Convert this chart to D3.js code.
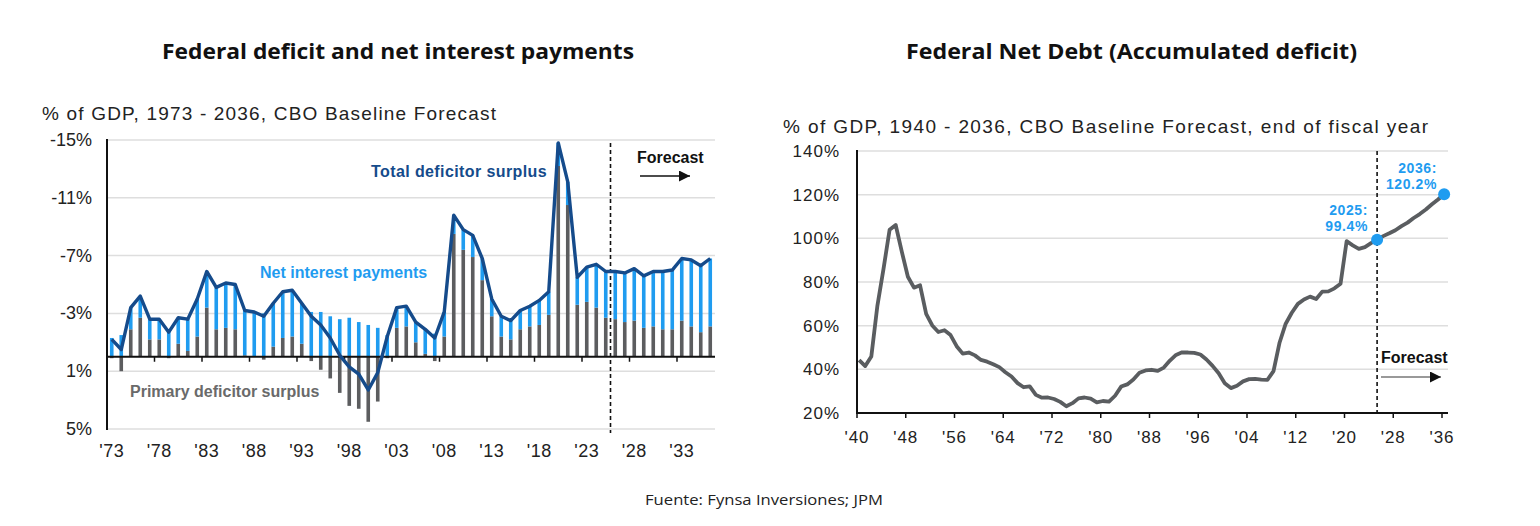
<!DOCTYPE html>
<html>
<head>
<meta charset="utf-8">
<script src="https://cdn.jsdelivr.net/npm/d3@7"></script>
<style>
  html, body { margin: 0; padding: 0; background: #fff; }
  svg { display: block; }
  .sans { font-family: "Liberation Sans", Arial, sans-serif; }
  .head { font-family: "Open Sans", Lato, sans-serif; }
</style>
</head>
<body>
<div id="chart"></div>
<script>
// ---- data: federal deficit (balance, % of GDP, negative = deficit) ----
var deficitYears = d3.range(1973, 2037);

var totalBalance = [
  -1.2, -0.5, -3.4, -4.2, -2.6, -2.6, -1.7, -2.7, -2.6, -4.0,   // 1973-1982
  -5.9, -4.8, -5.1, -5.0, -3.2, -3.1, -2.8, -3.7, -4.5, -4.6,   // 1983-1992
  -3.7, -2.8, -2.2, -1.3, -0.1,  0.7,  1.2,  2.3,  1.1, -1.4,   // 1993-2002
  -3.4, -3.5, -2.4, -1.9, -1.3, -3.1, -9.8, -8.8, -8.4, -6.8,   // 2003-2012
  -4.0, -2.8, -2.5, -3.2, -3.5, -3.9, -4.5, -14.8, -12.1, -5.5, // 2013-2022
  -6.2, -6.4, -5.9, -5.9, -5.8, -6.1, -5.6, -5.9, -5.9, -6.0,   // 2023-2032
  -6.8, -6.7, -6.3, -6.8                                        // 2033-2036
];

var primaryBalance = [
   0.1,  1.0, -1.9, -2.7, -1.2, -1.2,  0.1, -0.9, -0.4, -1.4,
  -3.4, -1.9, -2.0, -1.9, -0.1, -0.05, 0.2, -0.7, -1.3, -1.4,
  -0.9,  0.3,  0.9,  1.5,  2.5,  3.4,  3.6,  4.5,  3.1,  0.1,
  -2.0, -2.1, -1.0, -0.2,  0.3, -1.4, -8.5, -7.4, -6.9, -5.3,
  -2.8, -1.4, -1.2, -1.9, -2.1, -2.2, -2.9, -13.2, -10.5, -3.6,
  -3.8, -3.4, -2.7, -2.6, -2.4, -2.5, -2.0, -2.1, -1.9, -1.9,
  -2.5, -2.1, -1.7, -2.1
];

var netInterest = [
  -1.3, -1.5, -1.5, -1.5, -1.4, -1.4, -1.8, -1.8, -2.2, -2.6,
  -2.5, -2.9, -3.1, -3.1, -3.1, -3.05, -3.0, -3.0, -3.2, -3.2,
  -2.8, -3.1, -3.1, -2.8, -2.6, -2.7, -2.4, -2.2, -2.0, -1.5,
  -1.4, -1.4, -1.4, -1.7, -1.6, -1.7, -1.3, -1.4, -1.5, -1.5,
  -1.2, -1.4, -1.3, -1.3, -1.4, -1.7, -1.6, -1.6, -1.6, -1.9,
  -2.4, -3.0, -3.2, -3.3, -3.4, -3.6, -3.6, -3.8, -4.0, -4.1,
  -4.3, -4.6, -4.6, -4.7
];

var deficitTicks = [-15, -11, -7, -3, 1, 5];
var deficitLabelYears = [1973, 1978, 1983, 1988, 1993, 1998, 2003, 2008, 2013, 2018, 2023, 2028, 2033];

// ---- data: federal net debt (% of GDP) ----
var debtYears = d3.range(1940, 2037);
var netDebt = [
  44.2, 41.5, 45.9, 69.2, 86.0, 103.9, 106.1, 93.9, 82.4, 77.4,  // 1940-1949
  78.5, 65.4, 60.1, 57.1, 57.9, 55.7, 50.6, 47.2, 47.7, 46.4,    // 1950-1959
  44.3, 43.5, 42.3, 41.0, 38.7, 36.7, 33.7, 31.8, 32.2, 28.3,    // 1960-1969
  27.0, 27.1, 26.4, 25.1, 23.1, 24.5, 26.7, 27.1, 26.6, 24.9,    // 1970-1979
  25.5, 25.2, 27.9, 32.1, 33.1, 35.3, 38.4, 39.5, 39.8, 39.3,    // 1980-1989
  40.8, 44.0, 46.6, 47.8, 47.7, 47.5, 46.8, 44.5, 41.6, 38.2,    // 1990-1999
  33.6, 31.4, 32.5, 34.5, 35.5, 35.6, 35.3, 35.2, 39.2, 52.3,    // 2000-2009
  60.9, 65.9, 70.0, 72.0, 73.3, 72.2, 75.6, 75.7, 77.1, 79.2,    // 2010-2019
  98.7, 96.8, 95.2, 96.0, 97.8, 99.4, 101.0, 102.3, 103.7, 105.6,// 2020-2029
  107.2, 109.3, 111.1, 113.2, 115.6, 117.8, 120.2                // 2030-2036
];
var debtTicks = [20, 40, 60, 80, 100, 120, 140];
var debtLabelYears = [1940, 1948, 1956, 1964, 1972, 1980, 1988, 1996, 2004, 2012, 2020, 2028, 2036];
var debtMarkers = [
  { year: 2025, value: 99.4, lines: ["2025:", "99.4%"] },
  { year: 2036, value: 120.2, lines: ["2036:", "120.2%"] }
];

var navy = "#154b8b", sky = "#1f9cf0", grey = "#5c5d5f";

var svg = d3.select("#chart").append("svg")
    .attr("width", 1540)
    .attr("height", 526);

svg.append("rect").attr("width", 1540).attr("height", 526).attr("fill", "#fff");

// ================= left chart =================
var left = svg.append("g");

var x = d3.scaleBand().domain(deficitYears).range([107, 715]).padding(0);
var y = d3.scaleLinear().domain([-15, 5]).range([140, 429]);

left.selectAll(".grid").data(deficitTicks).enter().append("line")
    .attr("x1", 107).attr("x2", 715)
    .attr("y1", d => y(d)).attr("y2", d => y(d))
    .attr("stroke", "#dedede").attr("stroke-width", 1.5);

left.selectAll(".ylab").data(deficitTicks).enter().append("text")
    .attr("class", "sans")
    .attr("x", 92).attr("y", d => y(d) + 6)
    .attr("text-anchor", "end")
    .attr("font-size", 18).attr("fill", "#222")
    .text(d => d + "%");

var rows = deficitYears.map((yr, i) => ({ year: yr, primary: primaryBalance[i], interest: netInterest[i] }));
var stacked = d3.stack().keys(["primary", "interest"]).offset(d3.stackOffsetDiverging)(rows);
var barColor = { primary: grey, interest: sky };
var bw = x.bandwidth();

left.selectAll(".series").data(stacked).enter().append("g")
    .attr("fill", s => barColor[s.key])
    .selectAll("rect").data(s => s).enter().append("rect")
    .attr("x", d => x(d.data.year) + bw * 0.31)
    .attr("width", bw * 0.38)
    .attr("y", d => Math.min(y(d[0]), y(d[1])))
    .attr("height", d => Math.abs(y(d[0]) - y(d[1])));

// axes
left.append("line").attr("x1", 107).attr("x2", 715).attr("y1", y(0)).attr("y2", y(0))
    .attr("stroke", "#111").attr("stroke-width", 2);
left.append("line").attr("x1", 107).attr("x2", 107).attr("y1", 139).attr("y2", 430)
    .attr("stroke", "#111").attr("stroke-width", 2);

left.selectAll(".tick").data(deficitLabelYears.slice(1)).enter().append("line")
    .attr("x1", d => x(d)).attr("x2", d => x(d))
    .attr("y1", y(0)).attr("y2", y(0) + 5)
    .attr("stroke", "#111").attr("stroke-width", 1.5);

left.selectAll(".xlab").data(deficitLabelYears).enter().append("text")
    .attr("class", "sans")
    .attr("x", d => x(d) + bw / 2).attr("y", 457)
    .attr("text-anchor", "middle")
    .attr("font-size", 18).attr("letter-spacing", 0.5).attr("fill", "#222")
    .text(d => "'" + String(d).slice(2));

// forecast divider
left.append("line")
    .attr("x1", x(2026)).attr("x2", x(2026)).attr("y1", 143).attr("y2", 433)
    .attr("stroke", "#111").attr("stroke-width", 1.6).attr("stroke-dasharray", "4,3");

// total balance line
var totalLine = d3.line()
    .x((d, i) => x(deficitYears[i]) + bw / 2)
    .y(d => y(d));

left.append("path").datum(totalBalance)
    .attr("d", totalLine)
    .attr("fill", "none").attr("stroke", navy)
    .attr("stroke-width", 3.4).attr("stroke-linejoin", "round");

// series labels
left.append("text").attr("class", "sans").attr("x", 371).attr("y", 177)
    .attr("font-size", 16).attr("font-weight", "bold").attr("fill", navy)
    .attr("letter-spacing", 0.4)
    .text("Total deficitor surplus");
left.append("text").attr("class", "sans").attr("x", 260).attr("y", 278)
    .attr("font-size", 16).attr("font-weight", "bold").attr("fill", sky)
    .text("Net interest payments");
left.append("text").attr("class", "sans").attr("x", 130).attr("y", 397)
    .attr("font-size", 16).attr("font-weight", "bold").attr("fill", "#6a6a6a")
    .text("Primary deficitor surplus");

left.append("text").attr("class", "sans").attr("x", 637).attr("y", 163)
    .attr("font-size", 16).attr("font-weight", "bold").attr("fill", "#111")
    .text("Forecast");

var defs = svg.append("defs");
defs.append("marker").attr("id", "arrow")
    .attr("viewBox", "0 0 10 10").attr("refX", 10).attr("refY", 5)
    .attr("markerWidth", 11).attr("markerHeight", 11).attr("markerUnits", "userSpaceOnUse")
    .attr("orient", "auto")
    .append("path").attr("d", "M0,0 L10,5 L0,10 Z").attr("fill", "#111");

left.append("line").attr("x1", 640).attr("x2", 690).attr("y1", 176).attr("y2", 176)
    .attr("stroke", "#111").attr("stroke-width", 1.5).attr("marker-end", "url(#arrow)");

left.append("text").attr("class", "sans").attr("x", 42).attr("y", 120)
    .attr("font-size", 19).attr("fill", "#222")
    .attr("textLength", 454).attr("lengthAdjust", "spacing")
    .text("% of GDP, 1973 - 2036, CBO Baseline Forecast");

// ================= right chart =================
var right = svg.append("g");

var xd = d3.scaleLinear().domain([1940, 2036]).range([857, 1442]);
var yd = d3.scaleLinear().domain([20, 140]).range([413, 151]);
var shift = 0.35; // points sit a little right of the year tick

right.selectAll(".grid").data(debtTicks.slice(1)).enter().append("line")
    .attr("x1", 857).attr("x2", 1448)
    .attr("y1", d => yd(d)).attr("y2", d => yd(d))
    .attr("stroke", "#dedede").attr("stroke-width", 1.5);

right.selectAll(".ylab").data(debtTicks).enter().append("text")
    .attr("class", "sans")
    .attr("x", 840).attr("y", d => yd(d) + 6)
    .attr("text-anchor", "end")
    .attr("font-size", 17).attr("letter-spacing", 1).attr("fill", "#222")
    .text(d => d + "%");

right.append("line").attr("x1", 857).attr("x2", 1448).attr("y1", yd(20)).attr("y2", yd(20))
    .attr("stroke", "#111").attr("stroke-width", 2);
right.append("line").attr("x1", 857).attr("x2", 857).attr("y1", 150).attr("y2", 414)
    .attr("stroke", "#111").attr("stroke-width", 2);

right.selectAll(".tick").data(debtLabelYears).enter().append("line")
    .attr("x1", d => xd(d)).attr("x2", d => xd(d))
    .attr("y1", yd(20)).attr("y2", yd(20) + 5)
    .attr("stroke", "#111").attr("stroke-width", 1.5);

right.selectAll(".xlab").data(debtLabelYears).enter().append("text")
    .attr("class", "sans")
    .attr("x", d => xd(d)).attr("y", 443)
    .attr("text-anchor", "middle")
    .attr("font-size", 17).attr("letter-spacing", 1).attr("fill", "#222")
    .text(d => "'" + String(d).slice(2));

right.append("line")
    .attr("x1", xd(2025 + shift)).attr("x2", xd(2025 + shift)).attr("y1", 151).attr("y2", 413)
    .attr("stroke", "#111").attr("stroke-width", 1.6).attr("stroke-dasharray", "4,3");

var debtLine = d3.line()
    .x((d, i) => xd(debtYears[i] + shift))
    .y(d => yd(d));

right.append("path").datum(netDebt)
    .attr("d", debtLine)
    .attr("fill", "none").attr("stroke", "#5a5d60")
    .attr("stroke-width", 3.8).attr("stroke-linejoin", "round");

right.selectAll(".dot").data(debtMarkers).enter().append("circle")
    .attr("cx", d => xd(d.year + shift)).attr("cy", d => yd(d.value))
    .attr("r", 6).attr("fill", sky);

var ann = right.selectAll(".ann").data(debtMarkers).enter().append("text")
    .attr("class", "sans")
    .attr("text-anchor", "end")
    .attr("font-size", 14).attr("font-weight", "bold").attr("letter-spacing", 0.6)
    .attr("fill", sky)
    .attr("x", d => d.year === 2025 ? 1368 : 1437)
    .attr("y", d => d.year === 2025 ? 215 : 173);
ann.selectAll("tspan").data(d => d.lines).enter().append("tspan")
    .attr("x", function() { return d3.select(this.parentNode).attr("x"); })
    .attr("dy", (d, i) => i === 0 ? 0 : 16)
    .text(d => d);

right.append("text").attr("class", "sans").attr("x", 1381).attr("y", 363)
    .attr("font-size", 16).attr("font-weight", "bold").attr("fill", "#111")
    .text("Forecast");
right.append("line").attr("x1", 1381).attr("x2", 1441).attr("y1", 377).attr("y2", 377)
    .attr("stroke", "#777").attr("stroke-width", 1.5).attr("marker-end", "url(#arrow)");

right.append("text").attr("class", "sans").attr("x", 783).attr("y", 133)
    .attr("font-size", 19).attr("fill", "#222")
    .attr("textLength", 645).attr("lengthAdjust", "spacing")
    .text("% of GDP, 1940 - 2036, CBO Baseline Forecast, end of fiscal year");

// ================= titles & source =================
svg.append("text").attr("class", "head").attr("x", 162).attr("y", 59)
    .attr("font-size", 21).attr("font-weight", 700).attr("fill", "#111")
    .attr("textLength", 472).attr("lengthAdjust", "spacingAndGlyphs")
    .text("Federal deficit and net interest payments");

svg.append("text").attr("class", "head").attr("x", 906).attr("y", 59)
    .attr("font-size", 21).attr("font-weight", 700).attr("fill", "#111")
    .attr("textLength", 451).attr("lengthAdjust", "spacingAndGlyphs")
    .text("Federal Net Debt (Accumulated deficit)");

svg.append("text").attr("class", "head").attr("x", 645).attr("y", 505)
    .attr("font-size", 15).attr("font-weight", 400).attr("fill", "#222")
    .attr("textLength", 238).attr("lengthAdjust", "spacingAndGlyphs")
    .text("Fuente: Fynsa Inversiones; JPM");
</script>
</body>
</html>
